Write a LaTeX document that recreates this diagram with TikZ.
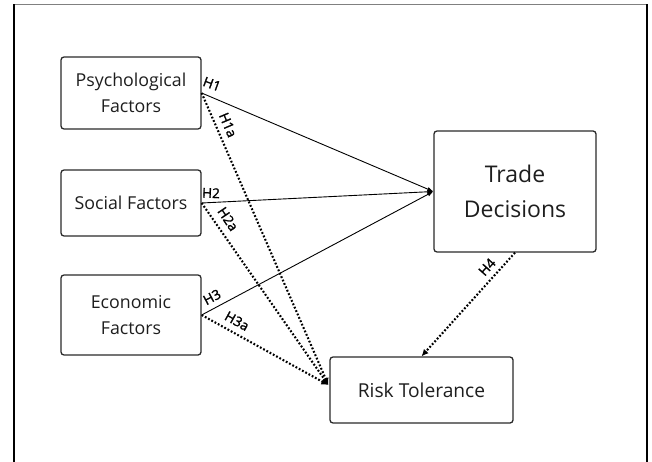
\documentclass[tikz,border=0pt]{standalone}
\usepackage{fontspec}
\setmainfont{Open Sans}
\newfontfamily\labfont{Open Sans}[FakeBold=1.5]
\usetikzlibrary{arrows.meta,calc}
\definecolor{txt}{HTML}{1E1E1E}
\definecolor{bord}{HTML}{2A2A2A}
\begin{document}
\begin{tikzpicture}[x=1pt,y=-1pt,
  boxnode/.style={draw=bord,line width=1.3pt,rounded corners=3pt,align=center,text=txt,inner sep=0pt,
    font=\fontsize{17.8}{26}\selectfont},
  solidarrow/.style={draw=black,line width=0.9pt,-{Latex[length=6pt,width=4.5pt]}},
  dotarrow/.style={draw=black,line width=2.1pt,dash pattern=on 1.8pt off 1.9pt,-{Latex[length=7pt,width=6.5pt]}},
  hlabel/.style={text=black,font=\labfont\fontsize{13.5}{13}\selectfont,inner sep=0pt}]
\useasboundingbox (0,0) rectangle (652,462);
% frame
\draw[gray,line width=1pt] (14,5) -- (647,5);
\draw[black,line width=2.4pt] (14,4.5) -- (14,462);
\draw[black,line width=2pt] (647,4.5) -- (647,462);
% boxes
\node[boxnode,minimum width=140pt,minimum height=72pt] (psy) at (131,93) {Psychological\\Factors};
\node[boxnode,minimum width=140pt,minimum height=66pt] (soc) at (131,203) {Social Factors};
\node[boxnode,minimum width=140pt,minimum height=80pt] (eco) at (131,315) {Economic\\Factors};
\node[boxnode,minimum width=162pt,minimum height=121pt,font=\fontsize{23}{35}\selectfont] (trd) at (515,191.5) {Trade\\Decisions};
\node[boxnode,minimum width=183pt,minimum height=66pt,font=\fontsize{19.2}{26}\selectfont] (rsk) at (421.5,390) {Risk Tolerance};
\coordinate (rin) at ($(rsk.west)+(-1,-5)$);
% solid connectors
\draw[solidarrow] (psy.east) -- (trd.west);
\draw[solidarrow] (soc.east) -- (trd.west);
\draw[solidarrow] (eco.east) -- (trd.west);
% dotted connectors
\draw[dotarrow] (psy.east) -- (rin);
\draw[dotarrow] (soc.east) -- (rin);
\draw[dotarrow] (eco.east) -- (rin);
\draw[dotarrow] (trd.south) -- (rsk.north);
% labels
\node[hlabel,rotate=-20] (l1) at (212,84) {H1};
\node[hlabel,rotate=-67] (l1a) at (228,125) {H1a};
\node[hlabel,rotate=-2] (l2) at (211,193) {H2};
\node[hlabel,rotate=-56] (l2a) at (228,219) {H2a};
\node[hlabel,rotate=28] (l3) at (212,297) {H3};
\node[hlabel,rotate=-29] (l3a) at (237,321) {H3a};
\node[hlabel,rotate=48] (l4) at (487,267) {H4};
\end{tikzpicture}
\end{document}
